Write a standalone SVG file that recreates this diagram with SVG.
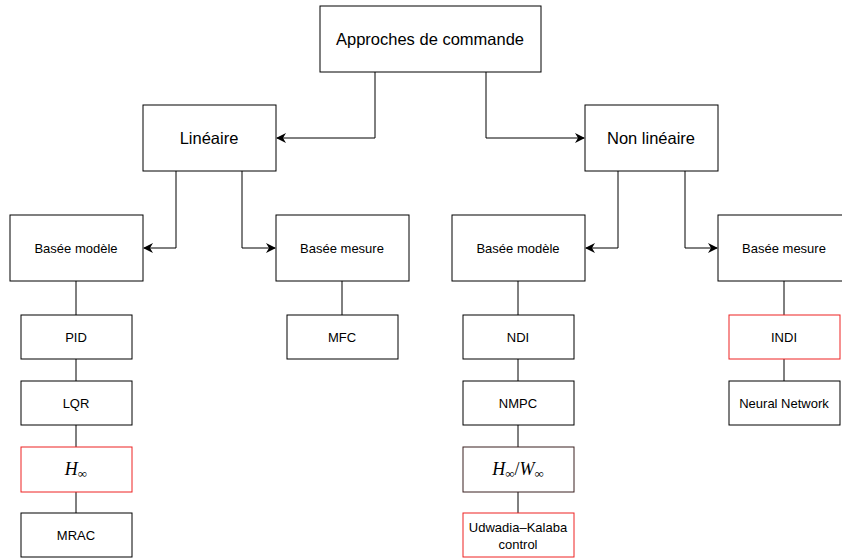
<svg xmlns="http://www.w3.org/2000/svg" width="842" height="558" viewBox="0 0 842 558">
<defs>
<marker id="arr" viewBox="0 0 10 10" refX="9" refY="5" markerWidth="10" markerHeight="10" markerUnits="userSpaceOnUse" orient="auto">
<path d="M0,0 L10,5 L0,10 L3,5 Z" fill="#000"/>
</marker>
<style>
.box{fill:#fff;stroke:#000;stroke-width:1}
.red{fill:#fff;stroke:#ee2222;stroke-width:1}
.brown{fill:#fff;stroke:#3a2020;stroke-width:1}
.t{font-family:"Liberation Sans",Arial,sans-serif;fill:#000;text-anchor:middle;dominant-baseline:central}
.big{font-size:16.5px}
.sm{font-size:13px}
.m{font-family:"Liberation Serif","Times New Roman",serif;font-style:italic;font-size:18px;fill:#000;text-anchor:middle}
.c{fill:none;stroke:#000;stroke-width:1}
</style>
</defs>
<rect width="842" height="558" fill="#fff"/>
<g id="connectors">
<path class="c" d="M375,72 V138 H277" marker-end="url(#arr)"/>
<path class="c" d="M486,72 V138 H584" marker-end="url(#arr)"/>
<path class="c" d="M176,171 V248 H144" marker-end="url(#arr)"/>
<path class="c" d="M242,171 V248 H275" marker-end="url(#arr)"/>
<path class="c" d="M618,171 V248 H586" marker-end="url(#arr)"/>
<path class="c" d="M685,171 V248 H717" marker-end="url(#arr)"/>
<path class="c" d="M76,281 V315 M76,359 V381 M76,425 V447 M76,492 V513"/>
<path class="c" d="M342,281 V315"/>
<path class="c" d="M518,281 V315 M518,359 V381 M518,425 V447 M518,492 V513"/>
<path class="c" d="M784,281 V315 M784,359 V381"/>
</g>
<g id="root"><rect class="box" x="320" y="6" width="221" height="66"/><text class="t big" x="430" y="39">Approches de commande</text></g>
<g id="lineaire"><rect class="box" x="143" y="105" width="133" height="66"/><text class="t big" x="209" y="138">Linéaire</text></g>
<g id="nonlineaire"><rect class="box" x="585" y="105" width="133" height="66"/><text class="t big" x="651" y="138">Non linéaire</text></g>
<g id="lin-modele"><rect class="box" x="10" y="215" width="133" height="66"/><text class="t sm" x="76" y="248">Basée modèle</text></g>
<g id="lin-mesure"><rect class="box" x="276" y="215" width="133" height="66"/><text class="t sm" x="342" y="248">Basée mesure</text></g>
<g id="nl-modele"><rect class="box" x="452" y="215" width="133" height="66"/><text class="t sm" x="518" y="248">Basée modèle</text></g>
<g id="nl-mesure"><rect class="box" x="718" y="215" width="133" height="66"/><text class="t sm" x="784" y="248">Basée mesure</text></g>
<g id="pid"><rect class="box" x="21" y="315" width="111" height="44"/><text class="t sm" x="76" y="337">PID</text></g>
<g id="lqr"><rect class="box" x="21" y="381" width="111" height="44"/><text class="t sm" x="76" y="403">LQR</text></g>
<g id="hinf"><rect class="red" x="21" y="447" width="111" height="45"/><text class="m" x="76" y="475">H<tspan font-style="normal" font-size="13" dy="3">∞</tspan></text></g>
<g id="mrac"><rect class="box" x="21" y="513" width="111" height="44"/><text class="t sm" x="76" y="535">MRAC</text></g>
<g id="mfc"><rect class="box" x="287" y="315" width="111" height="44"/><text class="t sm" x="342" y="337">MFC</text></g>
<g id="ndi"><rect class="box" x="463" y="315" width="111" height="44"/><text class="t sm" x="518" y="337">NDI</text></g>
<g id="nmpc"><rect class="box" x="463" y="381" width="111" height="44"/><text class="t sm" x="518" y="403">NMPC</text></g>
<g id="hinfwinf"><rect class="brown" x="463" y="447" width="111" height="45"/><text class="m" x="518" y="475">H<tspan font-style="normal" font-size="13" dy="3">∞</tspan><tspan dy="-3" font-style="normal">/</tspan>W<tspan font-style="normal" font-size="13" dy="3">∞</tspan></text></g>
<g id="udwadia"><rect class="red" x="463" y="513" width="111" height="44"/><text class="t sm" x="518" y="527">Udwadia–Kalaba</text><text class="t sm" x="518" y="544">control</text></g>
<g id="indi"><rect class="red" x="729" y="315" width="111" height="44"/><text class="t sm" x="784" y="337">INDI</text></g>
<g id="nn"><rect class="box" x="729" y="381" width="111" height="44"/><text class="t sm" x="784" y="403">Neural Network</text></g>
</svg>
